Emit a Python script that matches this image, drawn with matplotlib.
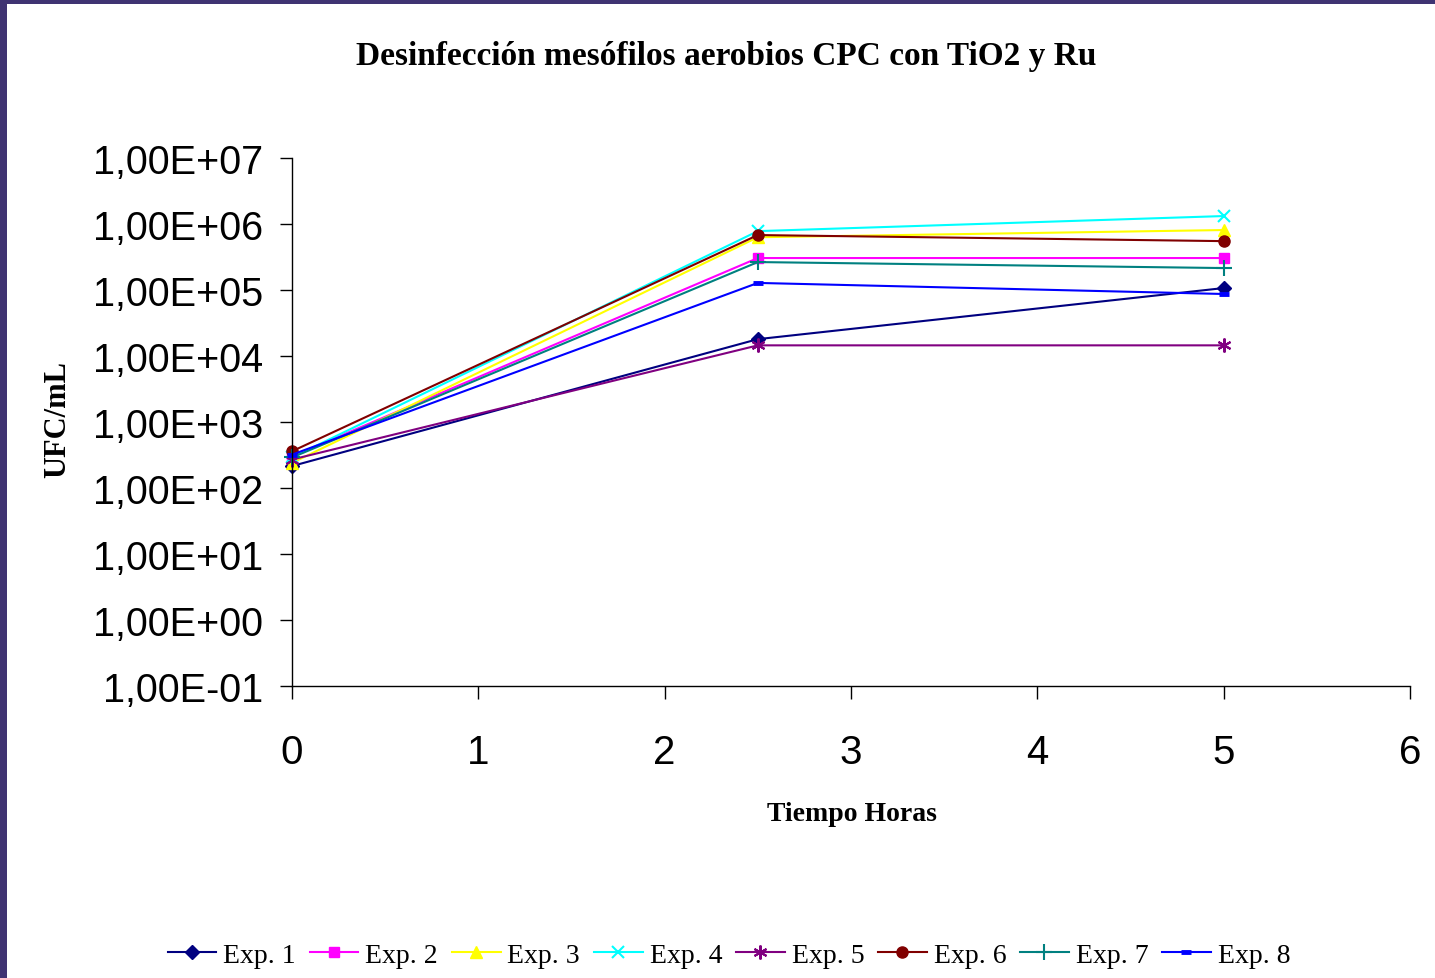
import numpy as np
import matplotlib
matplotlib.use("Agg")
import matplotlib.pyplot as plt
from matplotlib.patches import Rectangle
from matplotlib.ticker import FuncFormatter, FixedLocator

# Datos (UFC/mL)
tiempo = [0, 2.5, 5]
exp1 = [215, 18000, 107000]
exp2 = [300, 305000, 305000]
exp3 = [240, 630000, 810000]
exp4 = [290, 780000, 1320000]
exp5 = [270, 14500, 14500]
exp6 = [360, 680000, 550000]
exp7 = [290, 265000, 215000]
exp8 = [320, 128000, 87000]

series = [
    ("Exp. 1", exp1, "#000080", "D", 7),
    ("Exp. 2", exp2, "#FF00FF", "s", 7),
    ("Exp. 3", exp3, "#FFFF00", "^", 8),
    ("Exp. 4", exp4, "#00FFFF", "x", 9),
    ("Exp. 5", exp5, "#800080", "*", 0),
    ("Exp. 6", exp6, "#800000", "o", 8),
    ("Exp. 7", exp7, "#008080", "+", 11),
    ("Exp. 8", exp8, "#0000FF", "_", 7),
]

fig = plt.figure(figsize=(14.35, 9.79), dpi=100)
fig.patch.set_facecolor("#3f3372")
fig.add_artist(Rectangle((7 / 1435, 0), 1, 1 - 5 / 979, transform=fig.transFigure,
                         facecolor="white", edgecolor="none", zorder=0))

ax = fig.add_axes([292 / 1435, 1 - 687 / 979, (1410 - 292) / 1435, (687 - 159) / 979])
ax.set_facecolor("none")

for name, vals, col, mk, ms in series:
    if name == "Exp. 5":
        ax.plot(tiempo, vals, color=col, linewidth=1.5, marker=(6, 2, 0),
                markersize=10, markeredgewidth=1.5, label=name, clip_on=False)
    elif mk in ("x", "+", "_"):
        mew = 3.5 if mk == "_" else 1.5
        ax.plot(tiempo, vals, color=col, linewidth=1.5, marker=mk,
                markersize=ms, markeredgewidth=mew, label=name, clip_on=False)
    else:
        ax.plot(tiempo, vals, color=col, linewidth=1.5, marker=mk,
                markersize=ms, markeredgecolor=col, label=name, clip_on=False)

ax.set_yscale("log")
ax.set_ylim(1e-1, 1e7)
ax.set_xlim(0, 6)
ax.yaxis.set_major_locator(FixedLocator([10.0 ** k for k in range(-1, 8)]))
ax.yaxis.set_minor_locator(FixedLocator([]))
ax.yaxis.set_major_formatter(FuncFormatter(
    lambda v, p: "1,00E%s%02d" % ("+" if v >= 1 else "-", abs(int(round(np.log10(v)))))))
ax.set_xticks(range(7))

for s in ("top", "right"):
    ax.spines[s].set_visible(False)
for s in ("left", "bottom"):
    ax.spines[s].set_linewidth(1.0)
    ax.spines[s].set_color("black")

ax.tick_params(axis="y", direction="out", length=9, width=1, labelsize=28.5, pad=12,
               labelfontfamily="Liberation Sans")
ax.tick_params(axis="x", direction="out", length=9, width=1, labelsize=29, pad=25,
               labelfontfamily="Liberation Sans")

serif = "Liberation Serif"
fig.text(726 / 1435, 1 - 57 / 979, "Desinfección mesófilos aerobios CPC con TiO2 y Ru",
         ha="center", va="center", fontsize=24, fontweight="bold", family=serif)
fig.text(58 / 1435, 1 - 420 / 979, "UFC/mL", rotation=90, ha="center", va="center",
         fontsize=22, fontweight="bold", family=serif)
fig.text(852 / 1435, 1 - 815 / 979, "Tiempo Horas", ha="center", va="center",
         fontsize=20, fontweight="bold", family=serif)

fig.legend(loc="center", bbox_to_anchor=(729 / 1435, 1 - 956 / 979), ncol=8,
           frameon=False, prop={"family": serif, "size": 20}, handlelength=1.75,
           handletextpad=0.25, columnspacing=0.5)

fig.savefig("out.png", dpi=100, facecolor=fig.get_facecolor())
